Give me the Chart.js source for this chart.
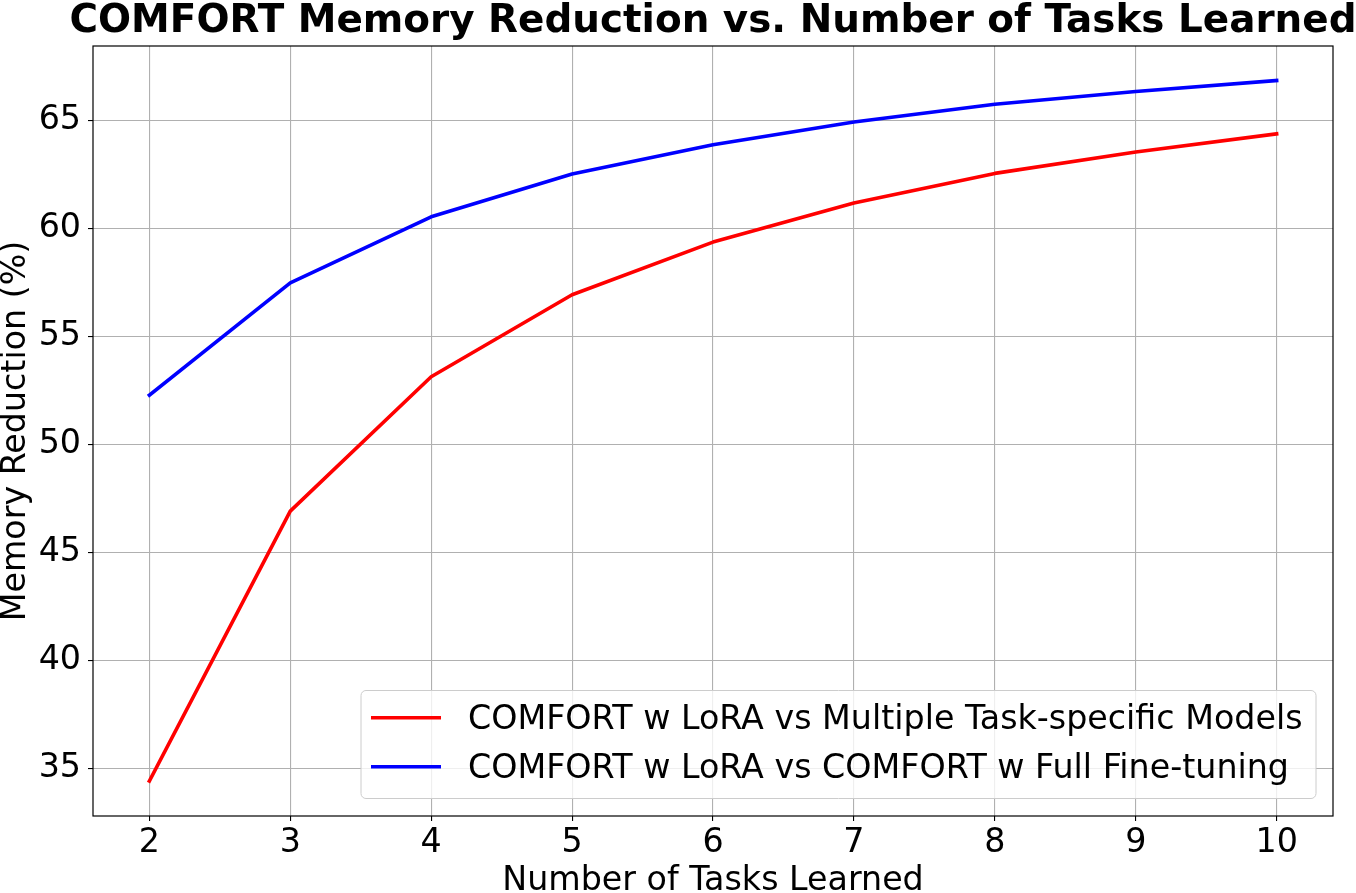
<!DOCTYPE html>
<html>
<head>
<meta charset="utf-8">
<script src="https://cdn.jsdelivr.net/npm/chart.js@4.4.1/dist/chart.umd.min.js"></script>
<style>
  html, body { margin: 0; padding: 0; background: #fff; }
  canvas { display: block; }
</style>
</head>
<body>
<canvas id="myChart" width="1356" height="893"></canvas>
<script>
const chartTitle = 'COMFORT Memory Reduction vs. Number of Tasks Learned';
const xTitle = 'Number of Tasks Learned';
const yTitle = 'Memory Reduction (%)';

const tasks = [2, 3, 4, 5, 6, 7, 8, 9, 10];
const loraVsModels = [34.41, 46.91, 53.13, 56.93, 59.37, 61.18, 62.55, 63.54, 64.38];
const loraVsFull = [52.28, 57.48, 60.54, 62.52, 63.88, 64.93, 65.75, 66.34, 66.85];
const yTicks = [35, 40, 45, 50, 55, 60, 65];

const seriesNames = [
  'COMFORT w LoRA vs Multiple Task-specific Models',
  'COMFORT w LoRA vs COMFORT w Full Fine-tuning'
];
const seriesColors = ['#ff0000', '#0000ff'];

const FONT = '"DejaVu Sans", sans-serif';

// title, frame and legend drawn on top like matplotlib does
const extras = {
  id: 'extras',
  afterDraw(chart) {
    const ctx = chart.ctx;
    const a = chart.chartArea;
    ctx.save();

    ctx.font = 'bold 38.9px ' + FONT;
    ctx.fillStyle = '#000';
    ctx.textAlign = 'center';
    ctx.textBaseline = 'alphabetic';
    ctx.fillText(chartTitle, (a.left + a.right) / 2, 32);

    ctx.strokeStyle = '#000';
    ctx.lineWidth = 1.2;
    ctx.strokeRect(a.left, a.top, a.right - a.left, a.bottom - a.top);

    // legend box
    const lx = 361, ly = 690.5, lw = 955, lh = 108;
    ctx.beginPath();
    ctx.roundRect(lx, ly, lw, lh, 5);
    ctx.fillStyle = 'rgba(255,255,255,0.8)';
    ctx.fill();
    ctx.strokeStyle = '#cccccc';
    ctx.lineWidth = 1;
    ctx.stroke();

    ctx.font = '33.3px ' + FONT;
    ctx.textAlign = 'left';
    chart.data.datasets.forEach((ds, i) => {
      const y = 717.7 + i * 49;
      ctx.beginPath();
      ctx.moveTo(371, y);
      ctx.lineTo(441, y);
      ctx.strokeStyle = ds.borderColor;
      ctx.lineWidth = 3.6;
      ctx.stroke();
      ctx.fillStyle = '#000';
      ctx.fillText(ds.label, 468, y + 11.6);
    });
    ctx.restore();
  }
};

const ctx = document.getElementById('myChart');

new Chart(ctx, {
  type: 'line',
  data: {
    datasets: [
      {
        label: seriesNames[0],
        data: tasks.map((t, i) => ({ x: t, y: loraVsModels[i] })),
        borderColor: seriesColors[0],
        backgroundColor: seriesColors[0]
      },
      {
        label: seriesNames[1],
        data: tasks.map((t, i) => ({ x: t, y: loraVsFull[i] })),
        borderColor: seriesColors[1],
        backgroundColor: seriesColors[1]
      }
    ]
  },
  options: {
    responsive: false,
    devicePixelRatio: 1,
    animation: false,
    layout: { padding: { top: 46, right: 23, bottom: 0, left: 0 } },
    elements: {
      point: { radius: 0 },
      line: { borderWidth: 3.6, tension: 0, borderJoinStyle: 'round', borderCapStyle: 'square' }
    },
    plugins: {
      legend: { display: false },
      title: { display: false },
      tooltip: { enabled: false }
    },
    scales: {
      x: {
        type: 'linear',
        min: 1.6,
        max: 10.4,
        afterBuildTicks: s => { s.ticks = tasks.map(v => ({ value: v })); },
        afterFit: s => { s.height = 77; },
        border: { display: false },
        grid: { color: '#b0b0b0', lineWidth: 1.1, tickColor: '#000', tickLength: 5, tickWidth: 1.1 },
        ticks: { color: '#000', font: { family: FONT, size: 33.3, lineHeight: 1.2 }, padding: 2, maxRotation: 0, autoSkip: false },
        title: { display: true, text: xTitle, color: '#000', font: { family: FONT, size: 33.3, lineHeight: 1 }, padding: { top: 0, bottom: -5 } }
      },
      y: {
        type: 'linear',
        min: 32.79,
        max: 68.45,
        afterBuildTicks: s => { s.ticks = yTicks.map(v => ({ value: v })); },
        afterFit: s => { s.width = 93; },
        border: { display: false },
        grid: { color: '#b0b0b0', lineWidth: 1.1, tickColor: '#000', tickLength: 5, tickWidth: 1.1 },
        ticks: { color: '#000', font: { family: FONT, size: 33.3, lineHeight: 1.2 }, padding: 7, autoSkip: false },
        title: { display: true, text: yTitle, color: '#000', font: { family: FONT, size: 33.3, lineHeight: 1 }, padding: 0 }
      }
    }
  },
  plugins: [extras]
});
</script>
</body>
</html>
